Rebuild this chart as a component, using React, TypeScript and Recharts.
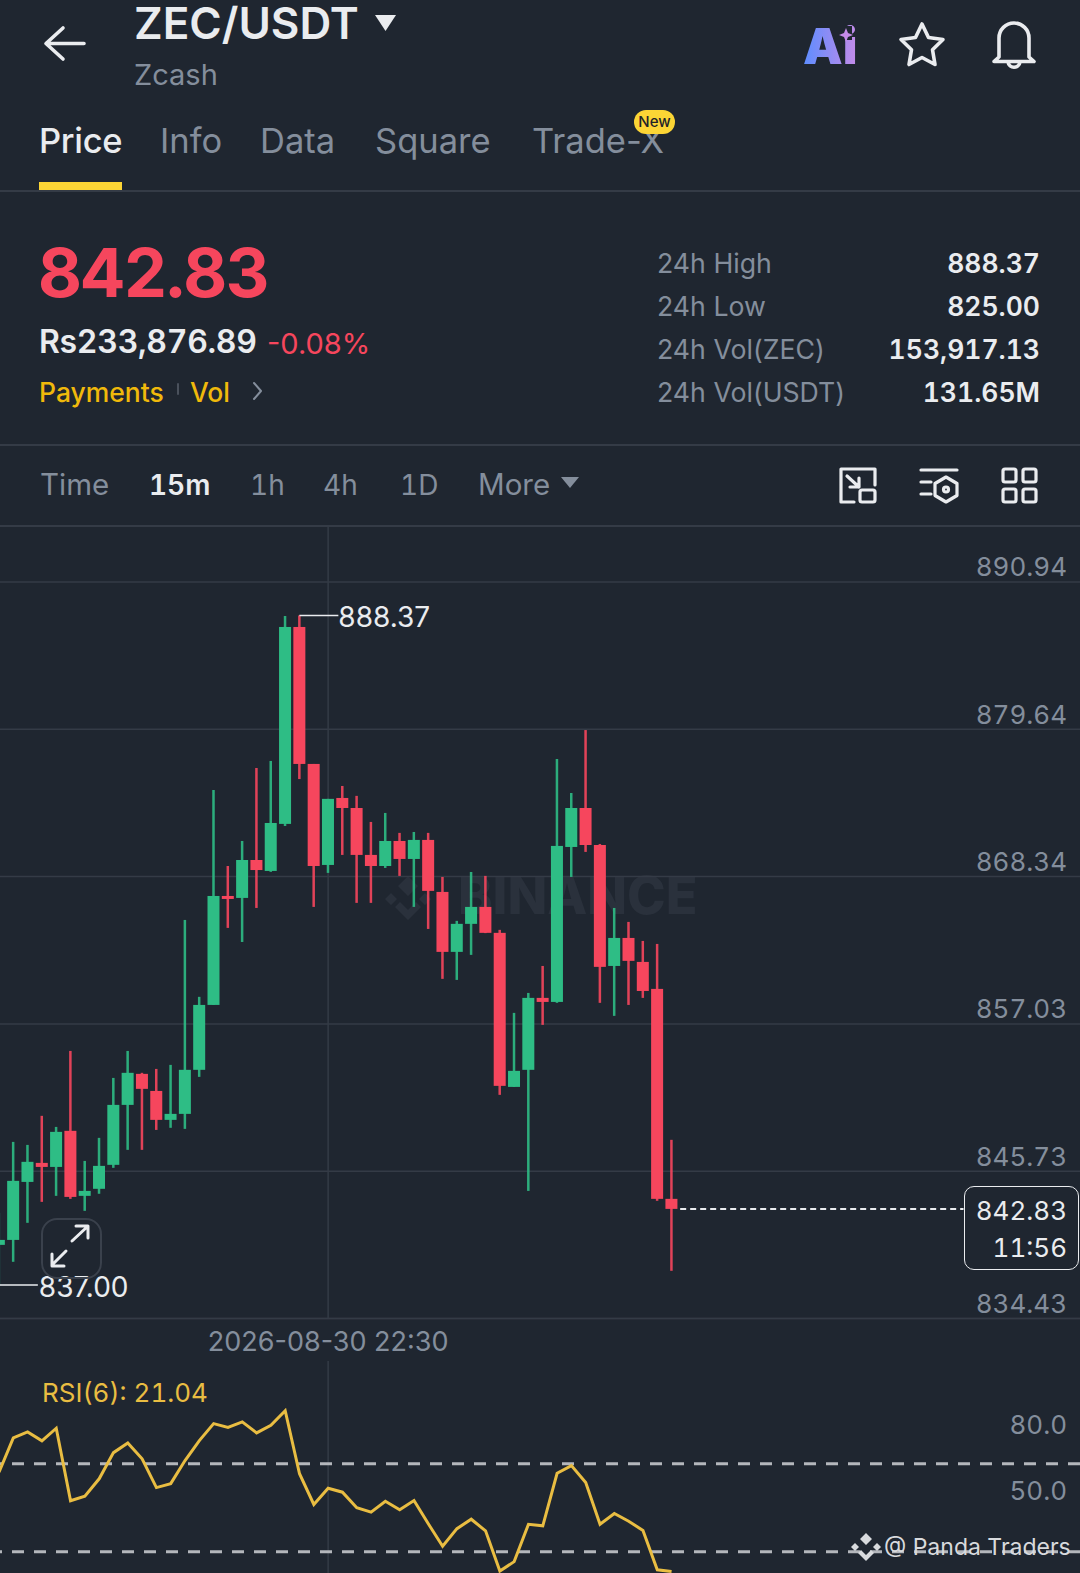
import * as React from "react"
import { Bar, CartesianGrid, ComposedChart, Line, ReferenceLine, XAxis, YAxis } from "recharts"

const BG = "#1f2630"
const GRID = "#343b46"
const GRAY = "#848e9c"
const WHITE = "#eaecef"
const RED = "#f6465d"
const GREEN = "#2ebd85"
const YELLOW = "#fcd535"
const FONT = "Inter, sans-serif"
const TAB = "tabular-nums"

const opens = [840.08, 840.46, 844.91, 846.37, 846.06, 848.83, 843.84, 844.38, 846.22, 850.82, 853.2, 851.89, 849.67, 850.13, 853.51, 858.49, 866.85, 866.7, 869.61, 868.77, 872.38, 887.49, 876.98, 869.23, 874.37, 873.6, 870, 869.15, 871.07, 869.69, 871.15, 867.16, 862.56, 864.71, 866.01, 864.02, 852.2, 853.51, 859.03, 858.72, 870.61, 873.6, 870.76, 861.48, 863.63, 861.79, 859.72, 843.61]
const highs = [842.54, 847.98, 847.75, 849.98, 849.13, 854.96, 846.52, 848.29, 852.89, 854.96, 853.28, 853.58, 853.89, 865.01, 859.11, 874.98, 869.15, 871.07, 876.67, 877.21, 888.33, 888.37, 876.98, 874.3, 875.29, 874.53, 872.53, 873.22, 871.69, 871.76, 871.69, 868.31, 864.94, 868.69, 868.39, 864.25, 857.88, 859.41, 861.48, 877.36, 874.75, 879.58, 870.84, 865.93, 864.86, 863.4, 863.17, 848.14]
const lows = [837, 838.78, 841.77, 843.38, 843.84, 843.61, 842.69, 844, 845.99, 847.37, 847.37, 848.9, 849.06, 848.98, 852.97, 858.49, 864.4, 863.32, 865.93, 868.7, 872.22, 875.82, 866.01, 868.62, 870, 866.32, 866.32, 869, 868.39, 866.01, 864.32, 860.49, 860.41, 862.33, 864, 851.59, 852.2, 844.22, 856.96, 858.65, 868.31, 870.23, 858.65, 857.65, 858.49, 859.03, 843.46, 838.09]
const closes = [840.46, 844.99, 846.45, 846.06, 848.75, 843.76, 844.22, 846.14, 850.82, 853.28, 852.05, 849.67, 850.13, 853.51, 858.49, 866.85, 866.62, 869.61, 868.84, 872.45, 887.49, 876.98, 869.15, 874.3, 873.6, 870, 869.15, 871.07, 869.69, 871.15, 867.24, 862.56, 864.71, 866.01, 864.02, 852.28, 853.43, 859.03, 858.72, 870.69, 873.6, 870.76, 861.41, 863.63, 861.87, 859.56, 843.61, 842.84]
const rsi = [66.2, 81.8, 84.5, 80.5, 86.2, 53.2, 55.3, 63.2, 75.1, 79.5, 72.3, 59.2, 61, 71.5, 80.6, 88.3, 86.6, 89.1, 84.1, 87.5, 94.2, 65.5, 51.5, 58.9, 57.1, 50, 48, 53, 49.1, 53.3, 42.7, 32.5, 40.5, 44.8, 39.5, 21.2, 25.5, 42.5, 41.8, 65.7, 69.2, 61.5, 42.5, 47.4, 43.9, 39.7, 21.8, 21.04]

const priceTicks = [890.94, 879.64, 868.34, 857.03, 845.73, 834.43]
const rsiTicks = [80, 50]
const rsiLevels = [70, 30]
const lastPrice = 842.83
const crossIndex = 23
const crossLabel = "2026-08-30 22:30"
const xDomain = [0.07, 75.54]

const tabs = [["Price", 39], ["Info", 160], ["Data", 260], ["Square", 375], ["Trade-X", 532]] as const
const ranges = [["Time", 40, false], ["15m", 149, true], ["1h", 250, true], ["4h", 323, true], ["1D", 400, true], ["More", 478, false]] as const
const stats = [
  ["24h High", "888.37", 263],
  ["24h Low", "825.00", 306],
  ["24h Vol(ZEC)", "153,917.13", 349],
  ["24h Vol(USDT)", "131.65M", 392],
] as const

const candles = opens.map((open, i) => ({ i, open, high: highs[i], low: lows[i], close: closes[i], rsi: rsi[i] }))
const maxHigh = Math.max(...highs)
const minLow = Math.min(...lows)

function Candle(props: any) {
  const { x, y, width, height, payload } = props
  const { open, high, low, close } = payload
  const unit = Math.abs(height) / (high - low)
  const yOf = (v: number) => y + (high - v) * unit
  const cx = x + width / 2
  const color = close >= open ? GREEN : RED
  const top = yOf(Math.max(open, close))
  const bottom = yOf(Math.min(open, close))
  return (
    <g>
      <rect x={cx - 1.25} y={y} width={2.5} height={Math.abs(height)} fill={color} fillOpacity={0.9} />
      <rect x={cx - 6} y={top} width={12} height={Math.max(bottom - top, 2)} fill={color} />
      {high === maxHigh && (
        <g>
          <line x1={cx} x2={cx + 39} y1={y} y2={y} stroke={WHITE} strokeWidth={1.5} />
          <text x={cx + 39} y={y + 12} fill={WHITE} fontSize={28} fontFamily={FONT}>{high.toFixed(2)}</text>
        </g>
      )}
      {low === minLow && (
        <g>
          <line x1={cx} x2={cx + 39} y1={yOf(low)} y2={yOf(low)} stroke={WHITE} strokeWidth={1.5} />
          <text x={cx + 40} y={yOf(low) + 12} fill={WHITE} fontSize={28} fontFamily={FONT}>{low.toFixed(2)}</text>
        </g>
      )}
    </g>
  )
}

function RightTick(props: any) {
  const { x, y, payload, digits, lift } = props
  return (
    <text x={x - 5} y={y - lift} textAnchor="end" dominantBaseline="central" fill={GRAY} fontSize={26} fontFamily={FONT} style={{ fontVariantNumeric: TAB }}>
      {payload.value.toFixed(digits)}
    </text>
  )
}

function Txt({ x, y, size, color = GRAY, weight = 400, right, spacing, tab, children }: any) {
  const style: React.CSSProperties = {
    position: "absolute",
    top: y,
    transform: "translateY(-50%)",
    fontSize: size,
    color,
    fontWeight: weight,
    fontFamily: FONT,
    whiteSpace: "nowrap",
    lineHeight: 1,
    letterSpacing: spacing,
    fontVariantNumeric: tab ? TAB : undefined,
  }
  if (right !== undefined) style.right = 1080 - right
  else style.left = x
  return <div style={style}>{children}</div>
}

function Line1({ y }: { y: number }) {
  return <div style={{ position: "absolute", left: 0, width: 1080, top: y, height: 1.5, background: GRID }} />
}

function Icons() {
  return (
    <svg width={1080} height={530} style={{ position: "absolute", left: 0, top: 0 }} fill="none" stroke={WHITE} strokeWidth={3.2} strokeLinecap="round" strokeLinejoin="round">
      <defs>
        <linearGradient id="ai" x1="0" x2="1" y1="0" y2="0">
          <stop offset="0" stopColor="#5c8dff" />
          <stop offset="1" stopColor="#c58be8" />
        </linearGradient>
      </defs>
      <path d="M84 43.5H47M63 28L46 43.5L63 59" strokeWidth={3.6} />
      <path d="M375 15h21l-10.500 16z" fill={WHITE} stroke="none" />
      <text x={803} y={64} fontSize={50} fontWeight={900} fontFamily={FONT} fill="url(#ai)" stroke="none">Ai</text>
      <rect x={838} y={26} width={14} height={14} fill={BG} stroke="none" />
      <path d="M846 28l2 5 5 2-5 2-2 5-2-5-5-2 5-2z" fill="#c58be8" stroke="none" />
      <path d="M922 24l6.500 13.500 14.500 2-10.500 10.300 2.500 14.700-13-7-13 7 2.500-14.700-10.500-10.300 14.500-2z" strokeWidth={3.6} />
      <path d="M999 57V38a15 15 0 0 1 30 0v19l5 4.500h-40zM1008 62c1 7 11 7 12 0" strokeWidth={3.6} />
      <path d="M561 477h18l-9 11z" fill={GRAY} stroke="none" />
      <path d="M254 383l7 8-7 8" stroke={GRAY} strokeWidth={2} />
      <path d="M178 384v10" stroke="#4a515c" strokeWidth={2} />
      <path d="M875 485V469H841V502H854M847 476L859 487M859 478V487H850" />
      <rect x={860} y={490} width={15} height={12} rx={2} />
      <path d="M921 470h36M921 482h10M921 494h10M946 477l11 6.500v12l-11 6.500-11-6.500v-12z" />
      <circle cx={946} cy={489.500} r={2.500} />
      <rect x={1003} y={469} width={13} height={13} rx={2} />
      <rect x={1023} y={469} width={13} height={13} rx={2} />
      <rect x={1003} y={489} width={13} height={13} rx={2} />
      <rect x={1023} y={489} width={13} height={13} rx={2} />
    </svg>
  )
}

export default function App() {
  return (
    <div style={{ position: "relative", width: 1080, height: 1573, background: BG, overflow: "hidden" }}>
      <style>{`body{margin:0;background:${BG}}`}</style>

      <Txt x={134} y={23} size={44} color={WHITE} weight={600} tab>ZEC/USDT</Txt>
      <Txt x={134} y={74} size={29}>Zcash</Txt>
      {tabs.map(([t, x], i) => (
        <Txt key={t} x={x} y={141} size={34.5} color={i === 0 ? WHITE : GRAY} weight={i === 0 ? 500 : 400} spacing={i === 0 ? -0.3 : undefined}>{t}</Txt>
      ))}
      <div style={{ position: "absolute", left: 634, top: 110, width: 41, height: 24, borderRadius: 12, background: YELLOW, color: "#1e2329", fontSize: 15, fontWeight: 500, fontFamily: FONT, textAlign: "center", lineHeight: "24px" }}>New</div>
      <div style={{ position: "absolute", left: 39, top: 182, width: 83, height: 8, background: YELLOW }} />
      <Line1 y={190} />

      <Txt x={38} y={272} size={68} color={RED} weight={700} spacing={-1.2} tab>842.83</Txt>
      <Txt x={39} y={342} size={32} color={WHITE} weight={600} spacing={-0.3} tab>Rs233,876.89</Txt>
      <Txt x={267} y={343} size={29} color={RED}>-0.08%</Txt>
      <Txt x={39} y={392} size={26.5} color="#f0b90b" weight={500}>Payments</Txt>
      <Txt x={190} y={392} size={26.5} color="#f0b90b" weight={500}>Vol</Txt>
      {stats.map(([label, value, y]) => (
        <React.Fragment key={label}>
          <Txt x={657} y={y} size={26.7}>{label}</Txt>
          <Txt right={1040} y={y} size={26.5} color={WHITE} weight={600} tab>{value}</Txt>
        </React.Fragment>
      ))}
      <Line1 y={444} />

      {ranges.map(([t, x, digit]) => (
        <Txt key={t} x={x} y={485} size={digit ? 28 : 29.5} color={t === "15m" ? WHITE : GRAY} weight={t === "15m" ? 600 : 400} tab={digit}>{t}</Txt>
      ))}
      <Icons />
      <Line1 y={525} />

      {/* watermark sits under the candles */}
      <Txt x={458} y={896} size={52} color="#2a313c" weight={800}>BINANCE</Txt>
      <svg width={50} height={50} style={{ position: "absolute", left: 383, top: 873 }}>
        <path d="M25 3l10 10-10 10-10-10zM8 20l6 6-6 6-6-6zM42 20l6 6-6 6-6-6zM25 47L12 34l5-5 8 8 8-8 5 5z" fill="#2a313c" />
      </svg>

      <div style={{ position: "absolute", left: 0, top: 527 }}>
        <ComposedChart width={1080} height={833.5} data={candles} margin={{ top: 0, right: 0, bottom: 0, left: 0 }}>
          <CartesianGrid stroke={GRID} strokeWidth={1.5} syncWithTicks />
          <XAxis
            dataKey="i"
            type="number"
            domain={xDomain}
            allowDataOverflow
            ticks={[crossIndex]}
            height={42}
            axisLine={{ stroke: GRID, strokeWidth: 1.5 }}
            tickLine={false}
            tickFormatter={() => crossLabel}
            tick={{ fill: GRAY, fontSize: 27, fontFamily: FONT, dy: 5 }}
          />
          <YAxis
            orientation="right"
            mirror
            domain={[834.43, 895.16]}
            allowDataOverflow
            ticks={priceTicks}
            axisLine={false}
            tickLine={false}
            tick={<RightTick digits={2} lift={15} />}
          />
          <Bar dataKey={(d: any) => [d.low, d.high]} barSize={12} shape={<Candle />} isAnimationActive={false} />
          <ReferenceLine
            segment={[{ x: 47.6, y: lastPrice }, { x: 67.4, y: lastPrice }]}
            stroke={WHITE}
            strokeWidth={2}
            strokeDasharray="6 4"
          />
        </ComposedChart>
      </div>

      <div style={{ position: "absolute", left: 41, top: 1218, width: 57, height: 57, border: "2px solid #3a414c", borderRadius: 16 }} />
      <svg width={60} height={60} style={{ position: "absolute", left: 40, top: 1217 }} fill="none" stroke={WHITE} strokeWidth={3} strokeLinecap="round" strokeLinejoin="round">
        <path d="M32 24l15-14M36 9h12v12M26 34l-14 14M12 37v12h12" />
      </svg>

      <div style={{ position: "absolute", left: 964, top: 1186, width: 113, height: 82, border: `1.5px solid ${WHITE}`, borderRadius: 10, background: BG }} />
      <Txt right={1067} y={1211} size={26} color={WHITE} tab>842.83</Txt>
      <Txt right={1067} y={1248} size={26} color={WHITE} tab>11:56</Txt>

      <div style={{ position: "absolute", left: 0, top: 1360.5 }}>
        <ComposedChart width={1080} height={212.5} data={candles} margin={{ top: 0, right: 0, bottom: 0, left: 0 }}>
          <CartesianGrid stroke={GRID} strokeWidth={1.5} horizontal={false} syncWithTicks />
          <XAxis dataKey="i" type="number" domain={xDomain} allowDataOverflow ticks={[crossIndex]} hide />
          <YAxis
            orientation="right"
            mirror
            domain={[20.1, 116.8]}
            allowDataOverflow
            ticks={rsiTicks}
            axisLine={false}
            tickLine={false}
            tick={<RightTick digits={1} lift={17} />}
          />
          {rsiLevels.map((v) => (
            <ReferenceLine key={v} y={v} stroke="#b4b7bc" strokeWidth={3} strokeDasharray="12 10" />
          ))}
          <Line dataKey="rsi" stroke="#e9bd42" strokeWidth={3} dot={false} isAnimationActive={false} />
        </ComposedChart>
      </div>

      <Txt x={42} y={1393} size={26} color="#e9bd42" tab>RSI(6): 21.04</Txt>
      <svg width={30} height={30} style={{ position: "absolute", left: 851, top: 1532 }}>
        <path d="M15 1l6 6-6 6-6-6zM4 11l4 4-4 4-4-4zM26 11l4 4-4 4-4-4zM15 29l-8-8 3-3 5 5 5-5 3 3z" fill="#d8dadd" />
      </svg>
      <Txt x={884} y={1547} size={23} color="#d8dadd">@ Panda Traders</Txt>
    </div>
  )
}
